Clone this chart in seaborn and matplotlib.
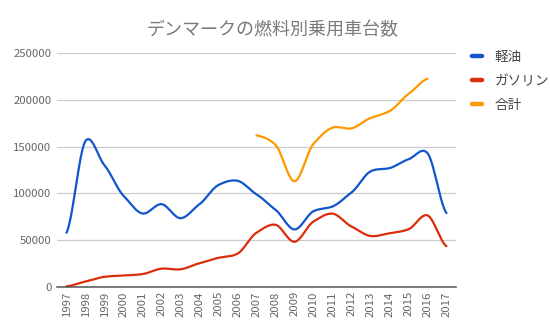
import numpy as np
import pandas as pd
import matplotlib
matplotlib.use("Agg")
import matplotlib.pyplot as plt
import seaborn as sns
from matplotlib.lines import Line2D

# Passenger cars in Denmark by fuel type
years = list(range(1997, 2018))
diesel = [58000, 156000, 130000, 97500, 78500, 88500, 73500, 88500, 109000, 113500,
          99000, 82500, 61500, 81000, 86000, 101000, 123500, 127000, 136500, 143000, 79000]
petrol = [700, 5800, 10900, 12300, 13800, 19600, 18900, 25400, 31200, 35600,
          58000, 66500, 48300, 70000, 78400, 64600, 54500, 57400, 61700, 76500, 43600]
total_years = list(range(2007, 2017))
total = [162000, 151800, 113000, 153000, 170200, 169500, 180500, 187900, 206200, 222500]

series_names = ["軽油", "ガソリン", "合計"]
colors = ["#1155cc", "#dc2d0a", "#ff9900"]
yticks = [0, 50000, 100000, 150000, 200000, 250000]


def smooth_curve(x, y, steps=24, k=0.4):
    """Smooth cardinal-spline curve through the points."""
    x = np.asarray(x, float)
    y = np.asarray(y, float)
    py = np.concatenate([[y[0]], y, [y[-1]]])
    t = np.linspace(0, 1, steps, endpoint=False)
    h00 = 2 * t ** 3 - 3 * t ** 2 + 1
    h10 = t ** 3 - 2 * t ** 2 + t
    h01 = -2 * t ** 3 + 3 * t ** 2
    h11 = t ** 3 - t ** 2
    xs, ys = [], []
    for i in range(len(x) - 1):
        p0, p1, p2, p3 = py[i], py[i + 1], py[i + 2], py[i + 3]
        m1 = k * (p2 - p0)
        m2 = k * (p3 - p1)
        ys.append(h00 * p1 + h10 * m1 + h01 * p2 + h11 * m2)
        xs.append(x[i] + (x[i + 1] - x[i]) * t)
    xs.append([x[-1]])
    ys.append([y[-1]])
    return np.concatenate(xs), np.concatenate(ys)


frames = []
for name, xv, yv in [(series_names[0], years, diesel),
                     (series_names[1], years, petrol),
                     (series_names[2], total_years, total)]:
    sx, sy = smooth_curve(xv, yv)
    frames.append(pd.DataFrame({"year": sx, "cars": sy, "fuel": name}))
df = pd.concat(frames, ignore_index=True)

sns.set_theme(style="white")
plt.rcParams["font.family"] = ["Noto Sans CJK JP", "DejaVu Sans"]

fig = plt.figure(figsize=(5.5, 3.32), dpi=100)
ax = fig.add_axes([57 / 550, 1 - 287 / 332, 399 / 550, 234 / 332])

sns.lineplot(data=df, x="year", y="cars", hue="fuel", hue_order=series_names,
             palette=colors, estimator=None, sort=False, units="fuel",
             linewidth=1.6, ax=ax, legend=False)

ax.set_xlim(1996.5, 2017.5)
ax.set_ylim(0, 250000)
ax.set_yticks(yticks)
ax.set_yticklabels([str(v) for v in yticks])
ax.set_xticks(years)
ax.set_xticklabels([str(y) for y in years], rotation=90)
ax.set_xlabel("")
ax.set_ylabel("")
ax.grid(axis="y", color="#cccccc", linewidth=0.9)
ax.grid(axis="x", visible=False)
ax.set_axisbelow(True)
for side in ["top", "right", "left"]:
    ax.spines[side].set_visible(False)
ax.spines["bottom"].set_color("#555555")
ax.spines["bottom"].set_linewidth(1.1)
ax.tick_params(axis="both", length=0, colors="#666666", labelsize=8.2)
ax.tick_params(axis="y", pad=4)
ax.tick_params(axis="x", pad=3)

fig.text(0.495, 1 - 30 / 332, "デンマークの燃料別乗用車台数", ha="center", va="center",
         fontsize=13, color="#7a7a7a")

handles = [Line2D([0], [0], color=c, linewidth=3.2) for c in colors]
fig.legend(handles, series_names, loc="upper left",
           bbox_to_anchor=(472 / 550, 1 - 50 / 332), frameon=False,
           borderpad=0, borderaxespad=0,
           handlelength=0.75, handletextpad=0.9, labelspacing=0.72,
           fontsize=9.8, labelcolor="#444444")

fig.savefig("out.png", dpi=100)
